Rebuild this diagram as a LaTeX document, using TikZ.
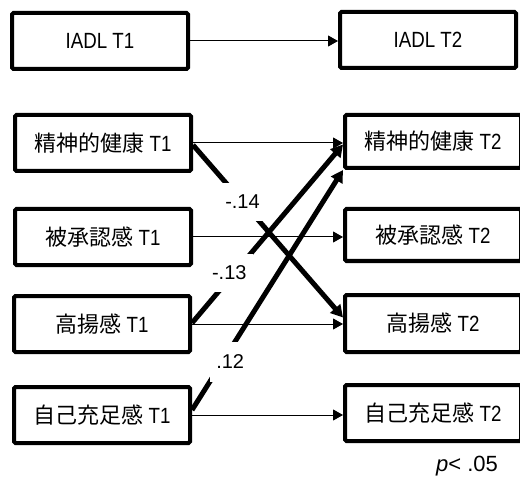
\documentclass[tikz,border=0pt]{standalone}
\usepackage{fontspec}
\setmainfont[FakeStretch=0.85]{Liberation Sans}
\newfontfamily\lblfont{Liberation Sans}
\newfontfamily\cjk{Noto Sans CJK JP}
\usetikzlibrary{arrows.meta}
\newcommand{\jp}[1]{{\cjk\fontsize{22pt}{26pt}\selectfont #1}}
\begin{document}
\begin{tikzpicture}[x=1pt,y=-1pt,
  varbox/.style={draw, line width=4pt, rounded corners=1.5pt, minimum width=176pt, minimum height=56pt, inner sep=0pt, font=\fontsize{22pt}{26pt}\selectfont},
  thinarrow/.style={line width=1pt, -{Triangle[length=10pt,width=11pt]}},
  thickarrow/.style={line width=5pt, -{Triangle[length=12pt,width=13pt]}},
  lbl/.style={fill=white, inner xsep=6pt, minimum height=38pt, font=\lblfont\fontsize{20pt}{24pt}\selectfont}
]
\clip (0,0) rectangle (520,484);
\fill[white] (0,0) rectangle (520,484);

\node[varbox] (i1) at (100,41) {IADL T1};
\node[varbox] (i2) at (428,40) {IADL T2};

\node[varbox] (m1) at (103,143) {\jp{精神的健康} T1};
\node[varbox, minimum height=53pt] (m2) at (433,141.5) {\jp{精神的健康} T2};
\node[varbox] (r1) at (103,237) {\jp{被承認感} T1};
\node[varbox, minimum height=52pt] (r2) at (433,235) {\jp{被承認感} T2};
\node[varbox] (h1) at (102,324) {\jp{高揚感} T1};
\node[varbox, minimum height=57pt] (h2) at (433,323.5) {\jp{高揚感} T2};
\node[varbox] (s1) at (102,415) {\jp{自己充足感} T1};
\node[varbox] (s2) at (433,413) {\jp{自己充足感} T2};

\draw[thinarrow] (i1.east) -- (i1.east -| i2.west);
\draw[thinarrow] (m1.east) -- (m1.east -| m2.west);
\draw[thinarrow] (r1.east) -- (r1.east -| r2.west);
\draw[thinarrow] (h1.east) -- (h1.east -| h2.west);
\draw[thinarrow] (s1.east) -- (s1.east -| s2.west);

\draw[thickarrow] ([yshift=-2pt]m1.east) -- node[lbl, pos=0.33] {-.14} ([yshift=6pt]h2.west);
\draw[thickarrow] ([yshift=1pt]h1.east) -- node[lbl, pos=0.28, xshift=-5pt] {-.13} ([yshift=-3pt]m2.west);
\draw[thickarrow] ([yshift=5pt]s1.east) -- node[lbl, pos=0.2, xshift=8pt, minimum height=40pt] {.12} (m2.south west);

\node[font=\lblfont\fontsize{22pt}{26pt}\selectfont] (pv) at (467,466) {\textit{p}< .05};
\end{tikzpicture}
\end{document}
